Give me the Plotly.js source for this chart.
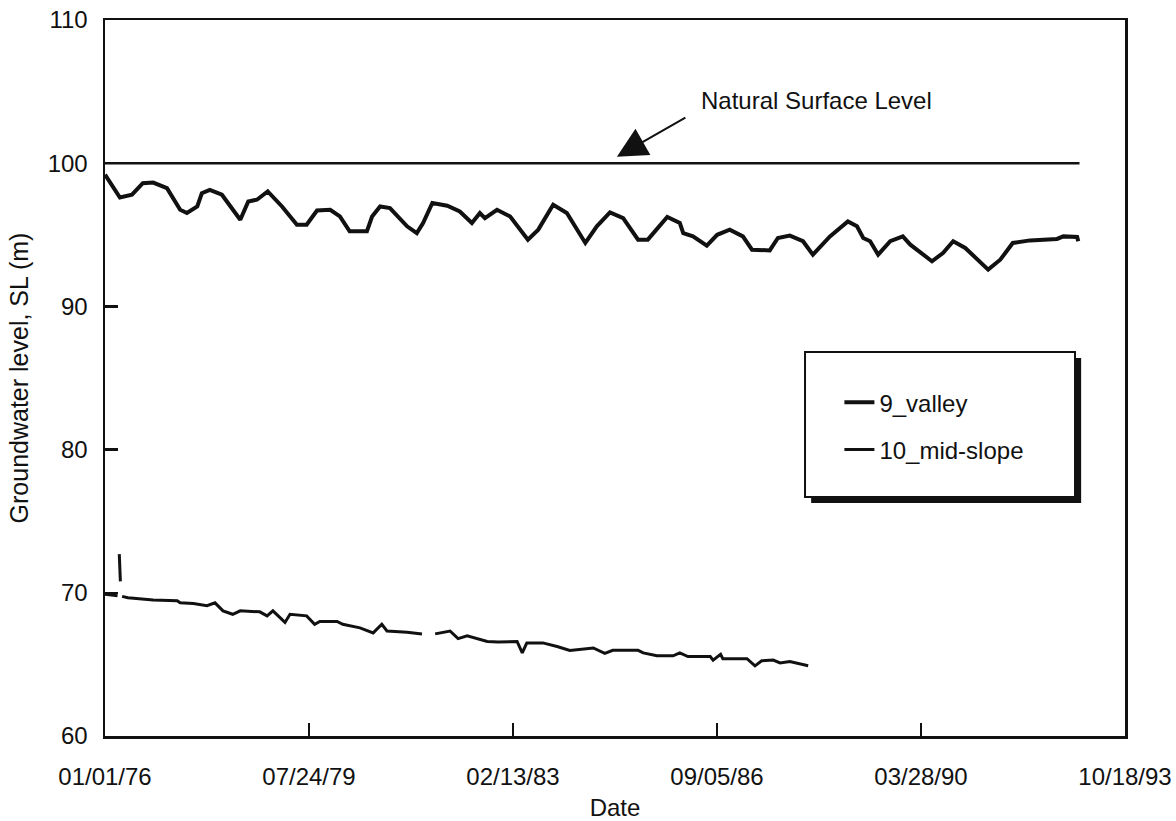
<!DOCTYPE html>
<html>
<head>
<meta charset="utf-8">
<script src="https://cdn.plot.ly/plotly-3.0.1.min.js"></script>
<style>
  html, body { margin: 0; padding: 0; background: #ffffff; }
  #chart { width: 1176px; height: 821px; }
</style>
</head>
<body>
<div id="chart"></div>
<script>
// Groundwater level records (decimal years, metres SL)
const valleyYears = [
  1976.00, 1976.12, 1976.26, 1976.47, 1976.66, 1976.84, 1977.08, 1977.31, 1977.43, 1977.61,
  1977.69, 1977.83, 1978.04, 1978.36, 1978.50, 1978.65, 1978.84, 1979.09, 1979.35, 1979.52,
  1979.70, 1979.93, 1980.10, 1980.27, 1980.57, 1980.66, 1980.80, 1980.97, 1981.27, 1981.44,
  1981.55, 1981.71, 1981.97, 1982.19, 1982.40, 1982.54, 1982.63, 1982.84, 1983.07, 1983.38,
  1983.56, 1983.82, 1984.06, 1984.38, 1984.58, 1984.81, 1985.04, 1985.30, 1985.47, 1985.81,
  1986.03, 1986.09, 1986.26, 1986.50, 1986.68, 1986.90, 1987.13, 1987.29, 1987.60, 1987.74,
  1987.95, 1988.18, 1988.35, 1988.65, 1988.96, 1989.12, 1989.23, 1989.35, 1989.49, 1989.70,
  1989.92, 1990.05, 1990.43, 1990.62, 1990.80, 1991.01, 1991.41, 1991.62, 1991.84, 1992.14,
  1992.61, 1992.72, 1992.96, 1992.98
];
const valleyLevel = [
  99.2, 98.5, 97.6, 97.8, 98.6, 98.65, 98.26, 96.75, 96.52, 96.98,
  97.9, 98.14, 97.8, 96.05, 97.33, 97.45, 98.03, 96.98, 95.7, 95.7,
  96.7, 96.75, 96.28, 95.24, 95.24, 96.28, 96.98, 96.87, 95.59, 95.12,
  95.82, 97.22, 97.03, 96.63, 95.82, 96.52, 96.17, 96.75, 96.28, 94.66,
  95.36, 97.1, 96.52, 94.43, 95.59, 96.56, 96.17, 94.66, 94.66, 96.24,
  95.82, 95.12, 94.89, 94.24, 95.0, 95.36, 94.89, 93.96, 93.91, 94.78,
  94.94, 94.55, 93.61, 94.89, 95.93, 95.59, 94.78, 94.55, 93.61, 94.55,
  94.89, 94.31, 93.15, 93.73, 94.55, 94.08, 92.57, 93.26, 94.43, 94.61,
  94.71, 94.89, 94.85, 94.55
];

// null entries mark breaks in the mid-slope record
const midYears = [
  1976.00, 1976.22, 1976.235, 1976.25, 1976.255, 1976.26, 1976.27, 1976.275, 1976.30, 1976.40,
  1976.84, 1977.26, 1977.31, 1977.54, 1977.78, 1977.92, 1978.06, 1978.23, 1978.36, 1978.70,
  1978.83, 1978.93, 1979.14, 1979.23, 1979.52, 1979.66, 1979.75, 1980.05, 1980.15, 1980.45,
  1980.68, 1980.83, 1980.92, 1981.27, 1981.53, 1981.64, 1981.76, 1982.02, 1982.16, 1982.32,
  1982.67, 1982.86, 1983.19, 1983.28, 1983.36, 1983.64, 1983.89, 1984.11, 1984.52, 1984.72,
  1984.86, 1985.30, 1985.39, 1985.63, 1985.91, 1986.03, 1986.17, 1986.56, 1986.61, 1986.74,
  1986.78, 1987.20, 1987.34, 1987.46, 1987.66, 1987.78, 1987.95, 1988.27
];
const midLevel = [
  69.9, 69.8, null, 72.7, 72.3, 71.7, 70.8, null, 69.75, 69.65,
  69.5, 69.45, 69.3, 69.25, 69.1, 69.3, 68.74, 68.5, 68.74, 68.67,
  68.39, 68.74, 67.93, 68.5, 68.39, 67.8, 68.0, 68.0, 67.8, 67.55,
  67.2, 67.8, 67.33, 67.25, 67.13, null, 67.13, 67.33, 66.8, 67.0,
  66.6, 66.57, 66.6, 65.8, 66.5, 66.5, 66.25, 65.98, 66.15, 65.77,
  65.98, 65.98, 65.8, 65.6, 65.6, 65.8, 65.55, 65.55, 65.3, 65.7,
  65.4, 65.4, 64.9, 65.25, 65.3, 65.1, 65.2, 64.9
];

const surfaceYears = [1976.0, 1993.0];
const surfaceLevel = [100, 100];

const seriesNames = ['9_valley', '10_mid-slope'];
const surfaceLabel = 'Natural Surface Level';

const tickDates = ['1976-01-01', '1979-07-24', '1983-02-13', '1986-09-05', '1990-03-28', '1993-10-18'];
const tickLabels = ['01/01/76', '07/24/79', '02/13/83', '09/05/86', '03/28/90', '10/18/93'];
const yTicks = [60, 70, 80, 90, 100, 110];

// decimal year -> ISO date string
function toDate(y) {
  const yr = Math.floor(y);
  const start = Date.UTC(yr, 0, 1);
  const end = Date.UTC(yr + 1, 0, 1);
  return new Date(start + (y - yr) * (end - start)).toISOString().slice(0, 10);
}

const FONT = 'Liberation Sans, Arial, Helvetica, sans-serif';
const INK = '#111111';
const FS = 24;

const traces = [
  {
    x: surfaceYears.map(toDate), y: surfaceLevel,
    mode: 'lines', showlegend: false, hoverinfo: 'skip',
    line: { color: INK, width: 2.5 }
  },
  {
    x: valleyYears.map(toDate), y: valleyLevel,
    name: seriesNames[0], legendgroup: 'a',
    mode: 'lines', line: { color: INK, width: 4 }
  },
  {
    x: midYears.map(toDate), y: midLevel,
    name: seriesNames[1], legendgroup: 'b', connectgaps: false,
    mode: 'lines', line: { color: INK, width: 3 }
  }
];

// legend frame with drop shadow (paper coordinates)
const box = { x0: 0.6863, x1: 0.9510, y0: 0.3338, y1: 0.5363 };
const sh = 0.0060, shy = 0.0084;

const layout = {
  width: 1176, height: 821,
  margin: { l: 105, r: 51, t: 20, b: 85, pad: 0 },
  paper_bgcolor: '#ffffff', plot_bgcolor: '#ffffff',
  font: { family: FONT, size: FS, color: INK },
  showlegend: true,
  legend: {
    x: 0.720, y: 0.497, xanchor: 'left', yanchor: 'top',
    bgcolor: 'rgba(0,0,0,0)', borderwidth: 0,
    traceorder: 'grouped', tracegroupgap: 13,
    font: { family: FONT, size: FS, color: INK }
  },
  xaxis: {
    type: 'date',
    range: [tickDates[0], tickDates[tickDates.length - 1]],
    tickmode: 'array', tickvals: tickDates, ticktext: tickLabels,
    ticks: 'inside', ticklen: 13, tickwidth: 2.5, tickcolor: INK,
    ticklabelstandoff: 18,
    showline: true, linewidth: 2.5, linecolor: INK, mirror: true,
    showgrid: false, zeroline: false,
    tickfont: { family: FONT, size: FS, color: INK },
    title: { text: 'Date', font: { family: FONT, size: FS, color: INK }, standoff: 12 }
  },
  yaxis: {
    range: [60, 110],
    tickmode: 'array', tickvals: yTicks,
    ticks: 'inside', ticklen: 13, tickwidth: 2.5, tickcolor: INK,
    ticklabelstandoff: 10,
    showline: true, linewidth: 2.5, linecolor: INK, mirror: true,
    showgrid: false, zeroline: false,
    tickfont: { family: FONT, size: FS, color: INK },
    title: { text: 'Groundwater level, SL (m)', font: { family: FONT, size: 25, color: INK }, standoff: 12 }
  },
  shapes: [
    { type: 'rect', xref: 'paper', yref: 'paper', layer: 'above',
      x0: box.x0 + sh, x1: box.x1 + sh, y0: box.y0 - shy, y1: box.y1 - shy,
      fillcolor: INK, line: { width: 0 } },
    { type: 'rect', xref: 'paper', yref: 'paper', layer: 'above',
      x0: box.x0, x1: box.x1, y0: box.y0, y1: box.y1,
      fillcolor: '#ffffff', line: { color: INK, width: 2 } }
  ],
  annotations: [
    { x: toDate(1984.93), y: 100.45, xref: 'x', yref: 'y',
      ax: 70, ay: -40, axref: 'pixel', ayref: 'pixel',
      text: '', showarrow: true, arrowhead: 2, arrowsize: 3, arrowwidth: 2, arrowcolor: INK,
      standoff: 0 },
    { x: toDate(1988.41), y: 104.38, xref: 'x', yref: 'y',
      text: surfaceLabel, showarrow: false,
      font: { family: FONT, size: FS, color: INK } }
  ]
};

Plotly.newPlot('chart', traces, layout, { staticPlot: true, displayModeBar: false });
</script>
</body>
</html>
